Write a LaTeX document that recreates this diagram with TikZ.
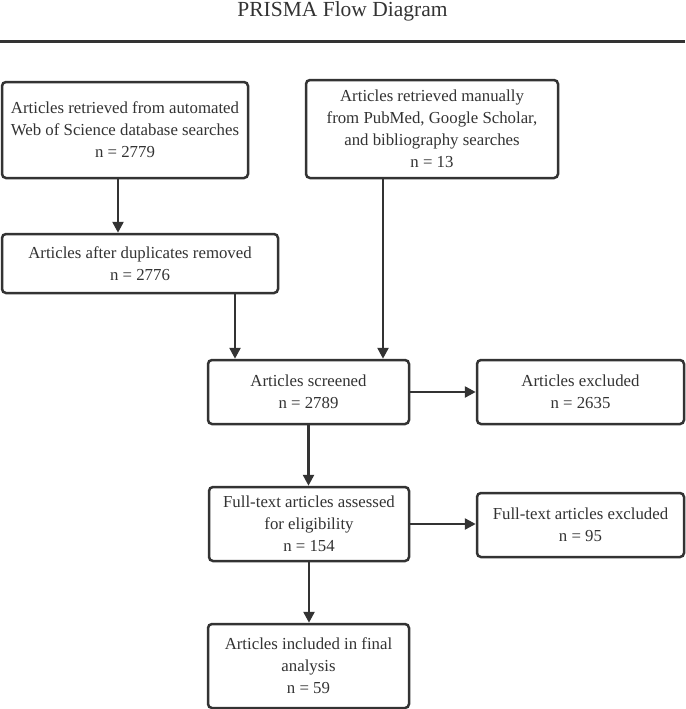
\documentclass[tikz,border=0pt]{standalone}
\usepackage{fontspec}
\setmainfont{Liberation Serif}
\usetikzlibrary{arrows.meta,calc}
\definecolor{ink}{HTML}{333333}
\begin{document}
\begin{tikzpicture}[x=1pt,y=-1pt,
  box/.style={draw=ink,line width=2.5pt,rounded corners=4pt,fill=white,text=ink,align=center,
    inner sep=0pt,font=\fontsize{16.8}{22}\selectfont},
  arr/.style={draw=ink,line width=2.5pt,-{Triangle[length=11pt,width=11pt]}}]
\useasboundingbox (0,0) rectangle (685,709);
\node[text=ink,font=\fontsize{21.5}{24}\selectfont,anchor=base] (title) at (342.5,17) {PRISMA Flow Diagram};
\draw[ink,line width=3pt] (0,42) coordinate (l0) -- (685,42) coordinate (l1);
\node[box,minimum width=246pt,minimum height=96pt] (b1) at (125,130)
  {Articles retrieved from automated\\Web of Science database searches\\n = 2779};
\node[box,minimum width=276pt,minimum height=59pt] (b2) at (140,263.5)
  {Articles after duplicates removed\\n = 2776};
\node[box,minimum width=252pt,minimum height=98pt] (b3) at (432,129)
  {Articles retrieved manually\\from PubMed, Google Scholar,\\and bibliography searches\\n = 13};
\node[box,minimum width=201pt,minimum height=64pt] (scr) at (308.5,392)
  {Articles screened\\n = 2789};
\node[box,minimum width=207pt,minimum height=64pt] (exc) at (580.5,392)
  {Articles excluded\\n = 2635};
\node[box,minimum width=200pt,minimum height=74pt] (ft) at (309,524)
  {Full-text articles assessed\\for eligibility\\n = 154};
\node[box,minimum width=207pt,minimum height=64pt] (fte) at (580.5,525)
  {Full-text articles excluded\\n = 95};
\node[box,minimum width=201pt,minimum height=84pt] (fin) at (308.5,666)
  {Articles included in final\\analysis\\n = 59};
\draw[arr] ([xshift=-7pt]b1.south) -- ([xshift=-7pt]b1.south |- b2.north);
\draw[arr] ([xshift=95pt]b2.south) -- ([xshift=95pt]b2.south |- scr.north);
\draw[arr] ([xshift=-49pt]b3.south) -- ([xshift=-49pt]b3.south |- scr.north);
\draw[arr] (scr.east) -- (scr.east -| exc.west);
\draw[arr] (scr.south) -- (scr.south |- ft.north);
\draw[arr] (ft.east) -- (ft.east -| fte.west);
\draw[arr] (ft.south) -- (ft.south |- fin.north);
\end{tikzpicture}
\end{document}
